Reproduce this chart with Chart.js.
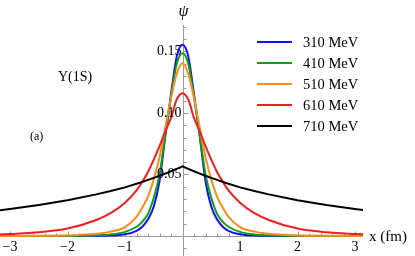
<!DOCTYPE html>
<html>
<head>
<meta charset="utf-8">
<script src="https://cdn.jsdelivr.net/npm/chart.js@4/dist/chart.umd.min.js"></script>
<style>
  html, body { margin: 0; padding: 0; background: #fff; }
  #wrap { width: 415px; height: 256px; }
</style>
</head>
<body>
<div id="wrap"><canvas id="psiChart"></canvas></div>
<script>
// values (x in fm)
const xs = [-3.2, -3, -2.5, -2, -1.5, -1.25, -1, -0.8, -0.7, -0.6, -0.5, -0.4, -0.3, -0.2, -0.1,
  0, 0.1, 0.2, 0.3, 0.4, 0.5, 0.6, 0.7, 0.8, 1, 1.25, 1.5, 2, 2.5, 3, 3.2];

const psi310 = [0, 0, 0, 0, 0.0001, 0.0003, 0.0013, 0.0042, 0.0075, 0.0135, 0.024, 0.0445, 0.081, 0.115, 0.146,
  0.1555, 0.146, 0.115, 0.081, 0.0445, 0.024, 0.0135, 0.0075, 0.0042, 0.0013, 0.0003, 0.0001, 0, 0, 0, 0];
const psi410 = [0, 0, 0, 0.0001, 0.0005, 0.0012, 0.0033, 0.0075, 0.0115, 0.018, 0.031, 0.050, 0.082, 0.113, 0.140,
  0.1485, 0.140, 0.113, 0.082, 0.050, 0.031, 0.018, 0.0115, 0.0075, 0.0033, 0.0012, 0.0005, 0.0001, 0, 0, 0];
const psi510 = [0, 0, 0.0001, 0.0004, 0.0017, 0.0035, 0.0072, 0.0155, 0.023, 0.032, 0.046, 0.064, 0.088, 0.112, 0.132,
  0.1404, 0.132, 0.112, 0.088, 0.064, 0.046, 0.032, 0.023, 0.0155, 0.0072, 0.0035, 0.0017, 0.0004, 0.0001, 0, 0];
const psi610 = [0.0012, 0.0016, 0.003, 0.006, 0.013, 0.0185, 0.027, 0.037, 0.044, 0.052, 0.062, 0.073, 0.085, 0.096, 0.111,
  0.116, 0.111, 0.096, 0.085, 0.073, 0.062, 0.052, 0.044, 0.037, 0.027, 0.0185, 0.013, 0.006, 0.003, 0.0016, 0.0012];
const psi710 = [0.0208, 0.0220, 0.0252, 0.0290, 0.0338, 0.0365, 0.0395, 0.0424, 0.0440, 0.0456, 0.0472, 0.0489, 0.0507, 0.0526, 0.0545,
  0.0565, 0.0545, 0.0526, 0.0507, 0.0489, 0.0472, 0.0456, 0.0440, 0.0424, 0.0395, 0.0365, 0.0338, 0.0290, 0.0252, 0.0220, 0.0208];

const seriesLabels = ['310 MeV', '410 MeV', '510 MeV', '610 MeV', '710 MeV'];
const seriesColors = ['#1010ff', '#119e11', '#ff8c1a', '#f21d1d', '#000000'];
const xTickValues = [-3, -2, -1, 1, 2, 3];
const yTickValues = [0.05, 0.10, 0.15];
const yTickLabels = ['0.05', '0.10', '0.15'];

const allSeries = [psi310, psi410, psi510, psi610, psi710];
const serif = '"Liberation Serif", "DejaVu Serif", serif';

const datasets = allSeries.map((vals, i) => ({
  label: seriesLabels[i],
  data: xs.map((x, k) => ({ x: x, y: vals[k] })),
  borderColor: seriesColors[i],
  borderWidth: 2,
  pointRadius: 0,
  fill: false,
  order: 5 - i,
  cubicInterpolationMode: i === 4 ? 'default' : 'monotone',
  tension: 0
}));

// Mathematica style axes crossing at the origin
const crossAxes = {
  id: 'crossAxes',
  beforeDatasetsDraw(chart) {
    const { ctx, chartArea: a, scales: { x, y } } = chart;
    const x0 = Math.round(x.getPixelForValue(0)) + 0.5;
    const y0 = Math.round(y.getPixelForValue(0)) + 0.5;
    ctx.save();
    ctx.strokeStyle = '#9a9a9a';
    ctx.lineWidth = 1;
    ctx.beginPath();
    ctx.moveTo(a.left, y0); ctx.lineTo(a.right, y0);
    ctx.moveTo(x0, a.top); ctx.lineTo(x0, a.bottom);
    // x ticks, minor every 0.2
    for (let i = -16; i <= 16; i++) {
      const px = Math.round(x.getPixelForValue(i / 5)) + 0.5;
      if (px < a.left || px > a.right) continue;
      const len = i % 5 === 0 ? 5 : 3;
      ctx.moveTo(px, y0); ctx.lineTo(px, y0 - len);
    }
    // y ticks, minor every 0.01
    for (let j = -1; j <= 17; j++) {
      const py = Math.round(y.getPixelForValue(j / 100)) + 0.5;
      if (py < a.top || py > a.bottom) continue;
      const len = j % 5 === 0 ? 5 : 3;
      ctx.moveTo(x0, py); ctx.lineTo(x0 + len, py);
    }
    ctx.stroke();
    ctx.restore();
  },
  afterDraw(chart) {
    const { ctx, scales: { x, y } } = chart;
    const x0 = x.getPixelForValue(0);
    const y0 = y.getPixelForValue(0);
    ctx.save();
    ctx.fillStyle = '#000';
    ctx.font = '14px ' + serif;
    ctx.textBaseline = 'middle';
    ctx.textAlign = 'center';
    xTickValues.forEach(v => {
      const t = v < 0 ? '\u2212' + Math.abs(v) : String(v);
      ctx.fillText(t, x.getPixelForValue(v), y0 + 11);
    });
    ctx.textAlign = 'right';
    yTickValues.forEach((v, i) => {
      ctx.fillText(yTickLabels[i], x0 - 1, y.getPixelForValue(v));
    });
    // axis titles
    ctx.textAlign = 'left';
    ctx.font = '15px ' + serif;
    ctx.fillText('x (fm)', 369, y0 + 1);
    ctx.textAlign = 'center';
    ctx.font = 'italic 16px ' + serif;
    ctx.fillText('\u03C8', x0 + 1, 12);
    // annotations
    ctx.textAlign = 'left';
    ctx.font = '14px ' + serif;
    ctx.fillText('\u03A5(1S)', 58, 77);
    ctx.font = '12px ' + serif;
    ctx.fillText('(a)', 30, 137);
    // legend
    ctx.font = '14.5px ' + serif;
    seriesLabels.forEach((lab, i) => {
      const ly = 42 + 21 * i;
      ctx.strokeStyle = seriesColors[i];
      ctx.lineWidth = 2;
      ctx.beginPath();
      ctx.moveTo(257, ly); ctx.lineTo(292, ly);
      ctx.stroke();
      ctx.fillText(lab, 303, ly + 1);
    });
    ctx.restore();
  }
};

const psiChart = new Chart(document.getElementById('psiChart'), {
  type: 'line',
  data: { datasets: datasets },
  options: {
    responsive: true,
    maintainAspectRatio: false,
    animation: false,
    layout: { padding: { left: 0, right: 52, top: 25, bottom: 0 } },
    plugins: { legend: { display: false }, tooltip: { enabled: false } },
    scales: {
      x: { type: 'linear', min: -3.174, max: 3.139, display: false },
      y: { type: 'linear', min: -0.0163, max: 0.1715, display: false }
    }
  },
  plugins: [crossAxes]
});
</script>
</body>
</html>
